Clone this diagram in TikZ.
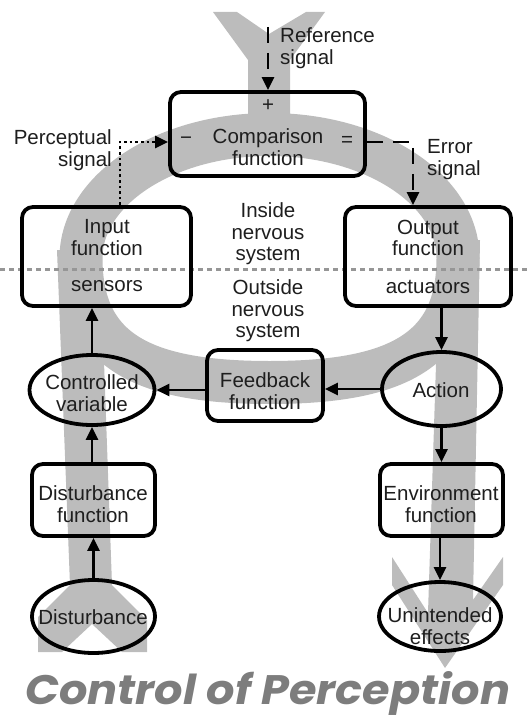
\documentclass[tikz,border=0pt]{standalone}
\usepackage{graphicx}
\usepackage{fontspec}
\setmainfont{Liberation Sans}
\newfontfamily\titlefont{Poppins}
\usetikzlibrary{arrows.meta,shapes.geometric}
\definecolor{bandgray}{RGB}{188,188,188}
\definecolor{sepgray}{RGB}{150,150,150}
\definecolor{titlegray}{RGB}{125,125,125}
\definecolor{ink}{RGB}{30,30,30}
\begin{document}
\begin{tikzpicture}[x=1pt,y=-1pt,
 box/.style={draw=black, line width=3.8pt, rounded corners=11pt, inner sep=0pt},
 oval/.style={draw=black, line width=3.8pt, ellipse, inner sep=0pt},
 txt/.style={font=\fontsize{20.5}{21.5}\selectfont, text=ink, align=center, inner sep=0pt},
 arr/.style={line width=2.6pt, -{Triangle[length=13pt,width=12pt]}},
 band/.style={fill=bandgray},
]
\useasboundingbox (0,0) rectangle (530,719);

% grey background arrows
\fill[band] (248,130) -- (248,60) -- (213,12) -- (237,12) -- (269,34) -- (306,12) -- (325,12) -- (290,60) -- (290,130) -- cycle;
\draw[bandgray, line width=43pt] (81,258) .. controls (81,189.8) and (165.4,134.5) .. (269.5,134.5)
  .. controls (373.6,134.5) and (458,189.8) .. (458,258)
  .. controls (458,350) and (398,382.5) .. (269.5,382.5)
  .. controls (141,382.5) and (81,350) .. (81,258) -- cycle;
\fill[band] (57,250) -- (70,585) -- (38,617) -- (38,652) -- (62,652) -- (92,624) -- (122,652) -- (147,652) -- (147,620) -- (112,585) -- (100,250) -- cycle;
\fill[band] (440,240) -- (428,613) -- (392,557) -- (392,585) -- (445,668) -- (503,585) -- (503,557) -- (473,600) -- (480,240) -- cycle;

% separator
\coordinate (sepL) at (0,269);
\coordinate (sepR) at (530,269);
\draw[sepgray, line width=3pt, dash pattern=on 4.5pt off 4.5pt] (sepL) -- (sepR);

% boxes
\node[box, minimum width=195pt, minimum height=84pt] (cmp) at (267.5,134) {};
\node[box, minimum width=169pt, minimum height=99pt] (inp) at (106.5,256.5) {};
\node[box, minimum width=166pt, minimum height=99pt] (out) at (428,256.5) {};
\node[box, minimum width=116pt, minimum height=71pt] (fb) at (265,385.5) {};
\node[box, minimum width=123pt, minimum height=72pt] (dfn) at (93.5,500) {};
\node[box, minimum width=123pt, minimum height=72pt] (efn) at (441.5,500) {};
\node[oval, minimum width=125pt, minimum height=70pt] (cv) at (92,390) {};
\node[oval, minimum width=119pt, minimum height=74pt] (act) at (441.5,389) {};
\node[oval, minimum width=123pt, minimum height=73pt] (dist) at (93.5,616.5) {};
\node[oval, minimum width=122pt, minimum height=69pt] (ue) at (440,616.5) {};

% texts
\node[txt] (cmpplus) at (268,106) {+};
\node[txt] (cmpminus) at (186,141) {\symbol{"2212}};
\node[txt] (cmpeq) at (347,141) {=};
\node[txt, anchor=north] (cmptxt) at (268,128.5) {Comparison\\function};
\node[txt, anchor=north west, align=left] (reftxt) at (280,27.5) {Reference\\signal};
\node[txt, anchor=north east, align=right] (pertxt) at (112,129.5) {Perceptual\\signal};
\node[txt, anchor=north west, align=left] (errtxt) at (427,139.5) {Error\\signal};
\node[txt, anchor=north] (inptxt) at (107,219.5) {Input\\function};
\node[txt, anchor=north] (sentxt) at (107,280.5) {sensors};
\node[txt, anchor=north] (outtxt) at (428,219.5) {Output\\function};
\node[txt, anchor=north] (acttxt2) at (428,280.5) {actuators};
\node[txt, anchor=north] (insidetxt) at (268,202.5) {Inside\\nervous\\system};
\node[txt, anchor=north] (outsidetxt) at (268,279.5) {Outside\\nervous\\system};
\node[txt, anchor=north] (cvtxt) at (92,374.5) {Controlled\\variable};
\node[txt, anchor=north] (fbtxt) at (265,372.5) {Feedback\\function};
\node[txt, anchor=north] (acttxt) at (441,382.5) {Action};
\node[txt, anchor=north] (dfntxt) at (93,485.5) {Disturbance\\function};
\node[txt, anchor=north] (efntxt) at (441,485.5) {Environment\\function};
\node[txt, anchor=north] (disttxt) at (93,609.5) {Disturbance};
\node[txt, anchor=north] (uetxt) at (440,607.5) {Unintended\\effects};

% connectors
\coordinate (reftop) at (268,27);
\draw[arr, dash pattern=on 16pt off 10pt] (reftop) -- (cmp.north -| reftop);
\coordinate (pc) at (120,142);
\draw[arr, dash pattern=on 2.6pt off 3pt] (inp.north -| pc) -- (pc) -- (cmp.west |- pc);
\coordinate (ec) at (413,142);
\draw[arr, dash pattern=on 16pt off 10pt] (cmp.east |- ec) -- (ec) -- (out.north -| ec);
\draw[arr] (out.south -| act.north) -- (act.north);
\draw[arr] (act.west) -- (act.west -| fb.east);
\draw[arr] (cv.east -| fb.west) -- (cv.east);
\draw[arr] (cv.north) -- (cv.north |- inp.south);
\draw[arr] (dfn.north -| cv.south) -- (cv.south);
\draw[arr] (dist.north) -- (dist.north |- dfn.south);
\draw[arr] (act.south) -- (act.south |- efn.north);
\draw[arr] (efn.south -| ue.north) -- (ue.north);

% title
\node[anchor=base west, inner sep=0pt, text=titlegray] (title) at (25,704)
  {\resizebox{485pt}{33pt}{\titlefont\bfseries\itshape Control of Perception}};
\end{tikzpicture}
\end{document}
